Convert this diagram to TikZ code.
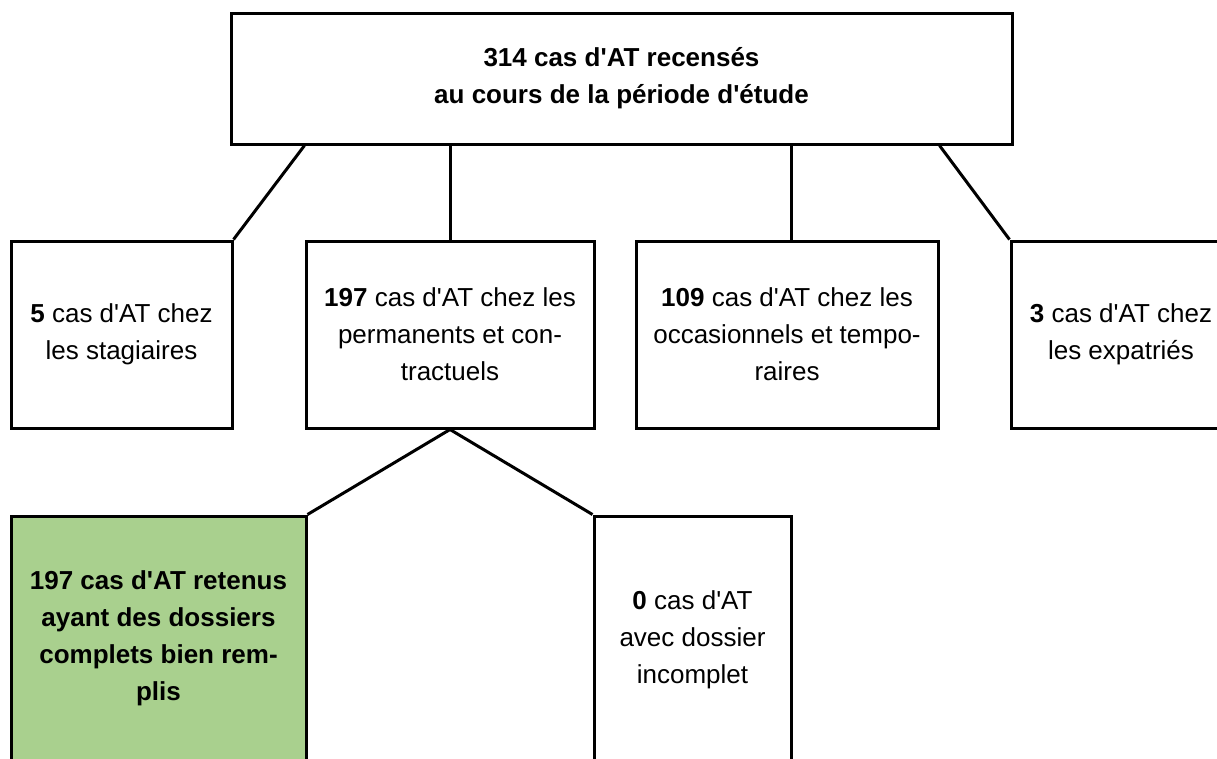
\documentclass[tikz,border=0pt]{standalone}
\usepackage{fontspec}
\setmainfont{Liberation Sans}[Ligatures=TeXOff]
\usepackage{tikz}
\usetikzlibrary{positioning}
\definecolor{vert}{RGB}{169,208,142}

\begin{document}
\begin{tikzpicture}[x=1pt,y=1pt,
  cell/.style={draw, rectangle, line width=3pt, inner sep=0pt, align=center,
    font=\fontsize{26}{37}\selectfont},
  link/.style={line width=3pt}]
  \useasboundingbox (0,0) rectangle (1217,-758);
  \draw (621.5, -78.5)node[cell, minimum width=781, minimum height=131](top){\textbf{314 cas d'AT recensés}\\\textbf{au cours de la période d'étude}};
  \draw (121.5, -334.5)node[cell, minimum width=221, minimum height=187](stag){\textbf{5} cas d'AT chez\\les stagiaires};
  \draw (450.0, -334.5)node[cell, minimum width=288, minimum height=187](perm){\textbf{197} cas d'AT chez les\\permanents et con-\\tractuels};
  \draw (787.0, -334.5)node[cell, minimum width=302, minimum height=187](occ){\textbf{109} cas d'AT chez les\\occasionnels et tempo-\\raires};
  \draw (1121.0, -334.5)node[cell, minimum width=220, minimum height=187](expat){\textbf{3} cas d'AT chez\\les expatriés};
  \draw (158.5, -638.0)node[cell, fill=vert, minimum width=295, minimum height=244](ret){\textbf{197 cas d'AT retenus}\\\textbf{ayant des dossiers}\\\textbf{complets bien rem-}\\\textbf{plis}};
  \draw (692.5, -640.0)node[cell, minimum width=197, minimum height=248](inc){\textbf{0} cas d'AT\\avec dossier\\incomplet};
  \path[link] (perm.north west |- top.south) edge (stag.north east);
  \path[link] (perm.north |- top.south) edge (perm.north);
  \path[link] ([xshift=4pt]occ.north |- top.south) edge ([xshift=4pt]occ.north);
  \path[link] (occ.north east |- top.south) edge (expat.north west);
  \path[link] (perm.south) edge (ret.north east);
  \path[link] (perm.south) edge (inc.north west);
\end{tikzpicture}
\end{document}
